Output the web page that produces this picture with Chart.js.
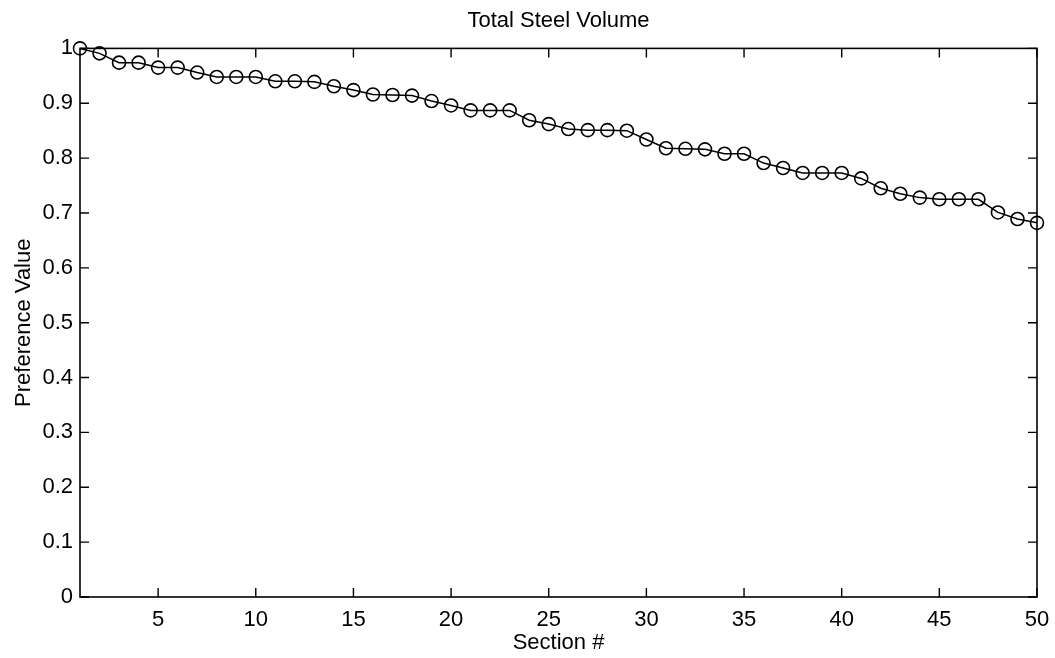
<!DOCTYPE html>
<html>
<head>
<meta charset="utf-8">
<script src="https://cdn.jsdelivr.net/npm/chart.js@4.4.1/dist/chart.umd.min.js"></script>
<style>
  html, body { margin: 0; padding: 0; background: #fff; }
  #wrap { width: 1055px; height: 658px; }
</style>
</head>
<body>
<div id="wrap"><canvas id="grafico"></canvas></div>
<script>
// datos
const secciones = [];
for (let i = 1; i <= 50; i++) secciones.push(i);

const preferencia = [
  1.000, 0.991, 0.974, 0.974, 0.965, 0.965, 0.956, 0.948, 0.948, 0.948,
  0.940, 0.940, 0.939, 0.931, 0.924, 0.916, 0.915, 0.914, 0.904, 0.896,
  0.887, 0.887, 0.887, 0.869, 0.862, 0.853, 0.851, 0.851, 0.850, 0.834,
  0.818, 0.817, 0.816, 0.808, 0.808, 0.791, 0.782, 0.773, 0.773, 0.773,
  0.763, 0.745, 0.735, 0.728, 0.725, 0.725, 0.725, 0.701, 0.689, 0.682,
];

const xTicks = [5, 10, 15, 20, 25, 30, 35, 40, 45, 50];
const yTicks = [0, 0.1, 0.2, 0.3, 0.4, 0.5, 0.6, 0.7, 0.8, 0.9, 1];

const fuente = "'Liberation Sans', Arial, Helvetica, sans-serif";

// marco y marcas hacia adentro, estilo matlab
const marcoPlugin = {
  id: "marco",
  afterDraw(chart) {
    const { ctx, chartArea: a, scales } = chart;
    const largo = 9;
    ctx.save();
    ctx.strokeStyle = "#000";
    ctx.lineWidth = 1.6;
    ctx.strokeRect(a.left, a.top, a.right - a.left, a.bottom - a.top);
    ctx.lineWidth = 1.4;
    ctx.beginPath();
    xTicks.forEach((v) => {
      const x = scales.x.getPixelForValue(v);
      ctx.moveTo(x, a.bottom);
      ctx.lineTo(x, a.bottom - largo);
      ctx.moveTo(x, a.top);
      ctx.lineTo(x, a.top + largo);
    });
    yTicks.forEach((v) => {
      const y = scales.y.getPixelForValue(v);
      ctx.moveTo(a.left, y);
      ctx.lineTo(a.left + largo, y);
      ctx.moveTo(a.right, y);
      ctx.lineTo(a.right - largo, y);
    });
    ctx.stroke();
    ctx.restore();
  },
};

new Chart(document.getElementById("grafico"), {
  type: "line",
  data: {
    labels: secciones,
    datasets: [
      {
        label: "Preference Value",
        data: secciones.map((s, i) => ({ x: s, y: preferencia[i] })),
        borderColor: "#000",
        borderWidth: 1.5,
        pointRadius: 6.5,
        pointBorderWidth: 1.6,
        pointBorderColor: "#000",
        pointBackgroundColor: "rgba(0,0,0,0)",
        tension: 0,
        clip: false,
      },
    ],
  },
  options: {
    responsive: true,
    maintainAspectRatio: false,
    animation: false,
    layout: { padding: { top: 4, right: 18, left: 0, bottom: 0 } },
    scales: {
      x: {
        type: "linear",
        min: 1,
        max: 50,
        afterBuildTicks: (scale) => {
          scale.ticks = xTicks.map((v) => ({ value: v }));
        },
        afterFit: (scale) => {
          scale.height = 61;
          scale.paddingLeft = 0;
          scale.paddingRight = 0;
        },
        grid: { display: false, drawTicks: false },
        border: { display: false },
        ticks: {
          color: "#000",
          padding: 10,
          maxRotation: 0,
          font: { family: fuente, size: 22 },
        },
        title: {
          display: true,
          text: "Section #",
          color: "#000",
          padding: { top: 0, bottom: 2 },
          font: { family: fuente, size: 22 },
        },
      },
      y: {
        min: 0,
        max: 1,
        afterBuildTicks: (scale) => {
          scale.ticks = yTicks.map((v) => ({ value: v }));
        },
        afterFit: (scale) => {
          scale.width = 80;
        },
        grid: { display: false, drawTicks: false },
        border: { display: false },
        ticks: {
          color: "#000",
          padding: 7,
          font: { family: fuente, size: 22 },
          callback: (v) => String(Math.round(v * 10) / 10),
        },
        title: {
          display: true,
          text: "Preference Value",
          color: "#000",
          padding: { top: 11, bottom: 0 },
          font: { family: fuente, size: 22 },
        },
      },
    },
    plugins: {
      legend: { display: false },
      tooltip: { enabled: false },
      title: {
        display: true,
        fullSize: false,
        text: "Total Steel Volume",
        color: "#000",
        padding: { top: 4, bottom: 14 },
        font: { family: fuente, size: 22, weight: "normal" },
      },
    },
  },
  plugins: [marcoPlugin],
});
</script>
</body>
</html>
